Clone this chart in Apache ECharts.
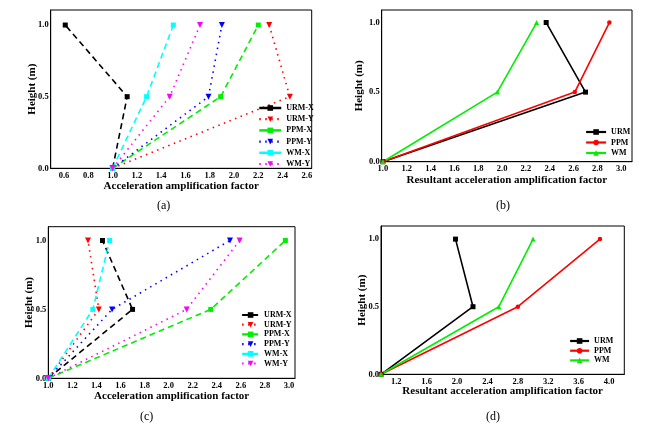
<!DOCTYPE html>
<html><head><meta charset="utf-8">
<script src="https://cdn.jsdelivr.net/npm/echarts@6/dist/echarts.min.js"></script>
<style>
html,body{margin:0;padding:0;background:#fff;}
#wrap{position:relative;width:662px;height:430px;}
.pn{position:absolute;width:331px;height:215px;}
</style></head><body>
<div id="wrap">
<div class="pn" id="pa" style="left:0;top:0"></div>
<div class="pn" id="pb" style="left:331px;top:0"></div>
<div class="pn" id="pc" style="left:0;top:215px"></div>
<div class="pn" id="pd" style="left:331px;top:215px"></div>
</div>
<script>
// ---- data ----
const heights = [0, 0.5, 1.0];
const yTicks = [0, 0.5, 1.0];
// Panel (a)
const aNames = ['URM-X','URM-Y','PPM-X','PPM-Y','WM-X','WM-Y'];
const aURMX = [1.00, 1.12, 0.61];
const aURMY = [1.00, 2.46, 2.29];
const aPPMX = [1.00, 1.89, 2.20];
const aPPMY = [1.00, 1.79, 1.90];
const aWMX  = [1.00, 1.28, 1.50];
const aWMY  = [1.00, 1.47, 1.72];
const aXTicks = [0.6,0.8,1.0,1.2,1.4,1.6,1.8,2.0,2.2,2.4,2.6];
// Panel (b)
const bNames = ['URM','PPM','WM'];
const bURM = [1.00, 2.70, 2.37];
const bPPM = [1.00, 2.61, 2.90];
const bWM  = [1.00, 1.96, 2.29];
const bXTicks = [1.0,1.2,1.4,1.6,1.8,2.0,2.2,2.4,2.6,2.8,3.0];
// Panel (c)
const cNames = ['URM-X','URM-Y','PPM-X','PPM-Y','WM-X','WM-Y'];
const cURMX = [1.00, 1.70, 1.45];
const cURMY = [1.00, 1.42, 1.33];
const cPPMX = [1.00, 2.35, 2.97];
const cPPMY = [1.00, 1.53, 2.51];
const cWMX  = [1.00, 1.37, 1.51];
const cWMY  = [1.00, 2.15, 2.59];
const cXTicks = [1.0,1.2,1.4,1.6,1.8,2.0,2.2,2.4,2.6,2.8,3.0];
// Panel (d)
const dNames = ['URM','PPM','WM'];
const dURM = [1.00, 2.21, 1.98];
const dPPM = [1.00, 2.80, 3.88];
const dWM  = [1.00, 2.55, 3.00];
const dXTicks = [1.2,1.6,2.0,2.4,2.8,3.2,3.6,4.0];

const captions = ['(a)','(b)','(c)','(d)'];
const xTitleA = 'Acceleration amplification factor';
const xTitleB = 'Resultant acceleration amplification factor';
const yTitle = 'Height (m)';

// ---- styling ----
const FONT = "'Liberation Serif', 'Times New Roman', serif";
const TRI_DOWN = 'path://M0,0 L10,0 L5,9 Z';
const TRI_UP = 'path://M5,0 L10,9 L0,9 Z';
const COL = {k:'#000000', r:'#ff0000', g:'#00ee00', b:'#0000ff', c:'#00ffff', m:'#ff00ff'};

function pairs(xs){ return xs.map((x,i)=>[x, heights[i]]); }

function mkSeries(name, xs, color, sym, size, dash, width){
  return {
    type:'line', name:name, data:pairs(xs), symbol:sym, symbolSize:size,
    showAllSymbol:true, animation:false,
    lineStyle:{color:color, width:width, type:dash},
    itemStyle:{color:color}
  };
}

function mkOption(cfg){
  return {
    animation:false,
    grid:{left:cfg.grid[0], top:cfg.grid[1], width:cfg.grid[2], height:cfg.grid[3],
          show:true, borderColor:'#000', borderWidth:1, backgroundColor:'transparent'},
    xAxis:{type:'value', min:cfg.xmin, max:cfg.xmax,
      name:cfg.xname, nameLocation:'middle', nameGap:cfg.xgap, nameMoveOverlap:false,
      nameTextStyle:{fontFamily:FONT, fontWeight:'bold', fontSize:11, color:'#000'},
      axisLine:{show:true, lineStyle:{color:'#000', width:1}},
      axisTick:{show:false},
      splitLine:{show:false},
      axisLabel:{customValues:cfg.xticks, fontFamily:FONT, fontWeight:'bold', fontSize:8.5, color:'#000', margin:3,
        formatter:v=>v.toFixed(1)}
    },
    yAxis:{type:'value', min:0, max:cfg.ymax,
      name:yTitle, nameLocation:'middle', nameGap:cfg.ygap, nameMoveOverlap:false,
      nameTextStyle:{fontFamily:FONT, fontWeight:'bold', fontSize:11, color:'#000'},
      axisLine:{show:true, lineStyle:{color:'#000', width:1}},
      axisTick:{show:false},
      splitLine:{show:false},
      axisLabel:{customValues:yTicks, fontFamily:FONT, fontWeight:'bold', fontSize:8.5, color:'#000', margin:2,
        formatter:v=>v.toFixed(1)}
    },
    legend:{orient:'vertical', left:cfg.leg[0], top:cfg.leg[1], itemWidth:cfg.leg[2], itemHeight:7,
      itemGap:cfg.leg[3], padding:0, selectedMode:false,
      data:cfg.legendData,
      lineStyle:{width:2.2},
      textStyle:{fontFamily:FONT, fontWeight:'bold', fontSize:8, color:'#000', lineHeight:8}
    },
    graphic:[{type:'text', left:cfg.cap[0], top:cfg.cap[1],
      style:{text:cfg.caption, font:'12px '+FONT, fill:'#000', textAlign:'center'}}],
    series:cfg.series
  };
}

const DASH = [6,4], DOT = [1.5,4.5];

// legend of (a): X series drawn with solid lines, as in the reference
const aLegend = aNames.map((n,i)=> i%2===0 ? {name:n, lineStyle:{type:'solid', width:2.5}} : {name:n});

const optA = mkOption({
  grid:[50.7,10,261,158.3], xmin:0.49, xmax:2.64, ymax:1.105, xticks:aXTicks,
  xname:xTitleA, xgap:12, ygap:13.5, legendData:aLegend, leg:[258,104,22,3.2], cap:[157,200], caption:captions[0],
  series:[
    mkSeries(aNames[0], aURMX, COL.k, 'rect', 5, DASH, 1.6),
    mkSeries(aNames[1], aURMY, COL.r, TRI_DOWN, 6, DOT, 1.6),
    mkSeries(aNames[2], aPPMX, COL.g, 'rect', 5, DASH, 1.6),
    mkSeries(aNames[3], aPPMY, COL.b, TRI_DOWN, 6, DOT, 1.6),
    mkSeries(aNames[4], aWMX, COL.c, 'rect', 5, DASH, 1.6),
    mkSeries(aNames[5], aWMY, COL.m, TRI_DOWN, 6, DOT, 1.6)
  ]
});
const optB = mkOption({
  grid:[50.7,10,250.3,151.7], xmin:0.99, xmax:3.09, ymax:1.09, xticks:bXTicks,
  xname:xTitleB, xgap:12.5, ygap:17.5, legendData:bNames, leg:[254,128,20,2.5], cap:[165,200], caption:captions[1],
  series:[
    mkSeries(bNames[0], bURM, COL.k, 'rect', 5, 'solid', 1.6),
    mkSeries(bNames[1], bPPM, COL.r, 'circle', 4.5, 'solid', 1.6),
    mkSeries(bNames[2], bWM, COL.g, TRI_UP, 5, 'solid', 1.6)
  ]
});
const optC = mkOption({
  grid:[48.3,11.7,246.7,151.6], xmin:1.0, xmax:3.05, ymax:1.1, xticks:cXTicks,
  xname:xTitleA, xgap:12, ygap:14, legendData:cNames, leg:[241,96,17,1.7], cap:[140,196], caption:captions[2],
  series:[
    mkSeries(cNames[0], cURMX, COL.k, 'rect', 5, DASH, 1.6),
    mkSeries(cNames[1], cURMY, COL.r, TRI_DOWN, 6, DOT, 1.6),
    mkSeries(cNames[2], cPPMX, COL.g, 'rect', 5, DASH, 1.6),
    mkSeries(cNames[3], cPPMY, COL.b, TRI_DOWN, 6, DOT, 1.6),
    mkSeries(cNames[4], cWMX, COL.c, 'rect', 5, DASH, 1.6),
    mkSeries(cNames[5], cWMY, COL.m, TRI_DOWN, 6, DOT, 1.6)
  ]
});
const optD = mkOption({
  grid:[50,11,243.3,148.3], xmin:1.0, xmax:4.2, ymax:1.097, xticks:dXTicks,
  xname:xTitleB, xgap:11, ygap:13, legendData:dNames, leg:[238,122,19,1.7], cap:[155,196], caption:captions[3],
  series:[
    mkSeries(dNames[0], dURM, COL.k, 'rect', 5, 'solid', 1.6),
    mkSeries(dNames[1], dPPM, COL.r, 'circle', 4.5, 'solid', 1.6),
    mkSeries(dNames[2], dWM, COL.g, TRI_UP, 5, 'solid', 1.6)
  ]
});

[['pa',optA],['pb',optB],['pc',optC],['pd',optD]].forEach(([id,opt])=>{
  const ch = echarts.init(document.getElementById(id), null, {renderer:'canvas'});
  ch.setOption(opt);
});
</script>
</body></html>
